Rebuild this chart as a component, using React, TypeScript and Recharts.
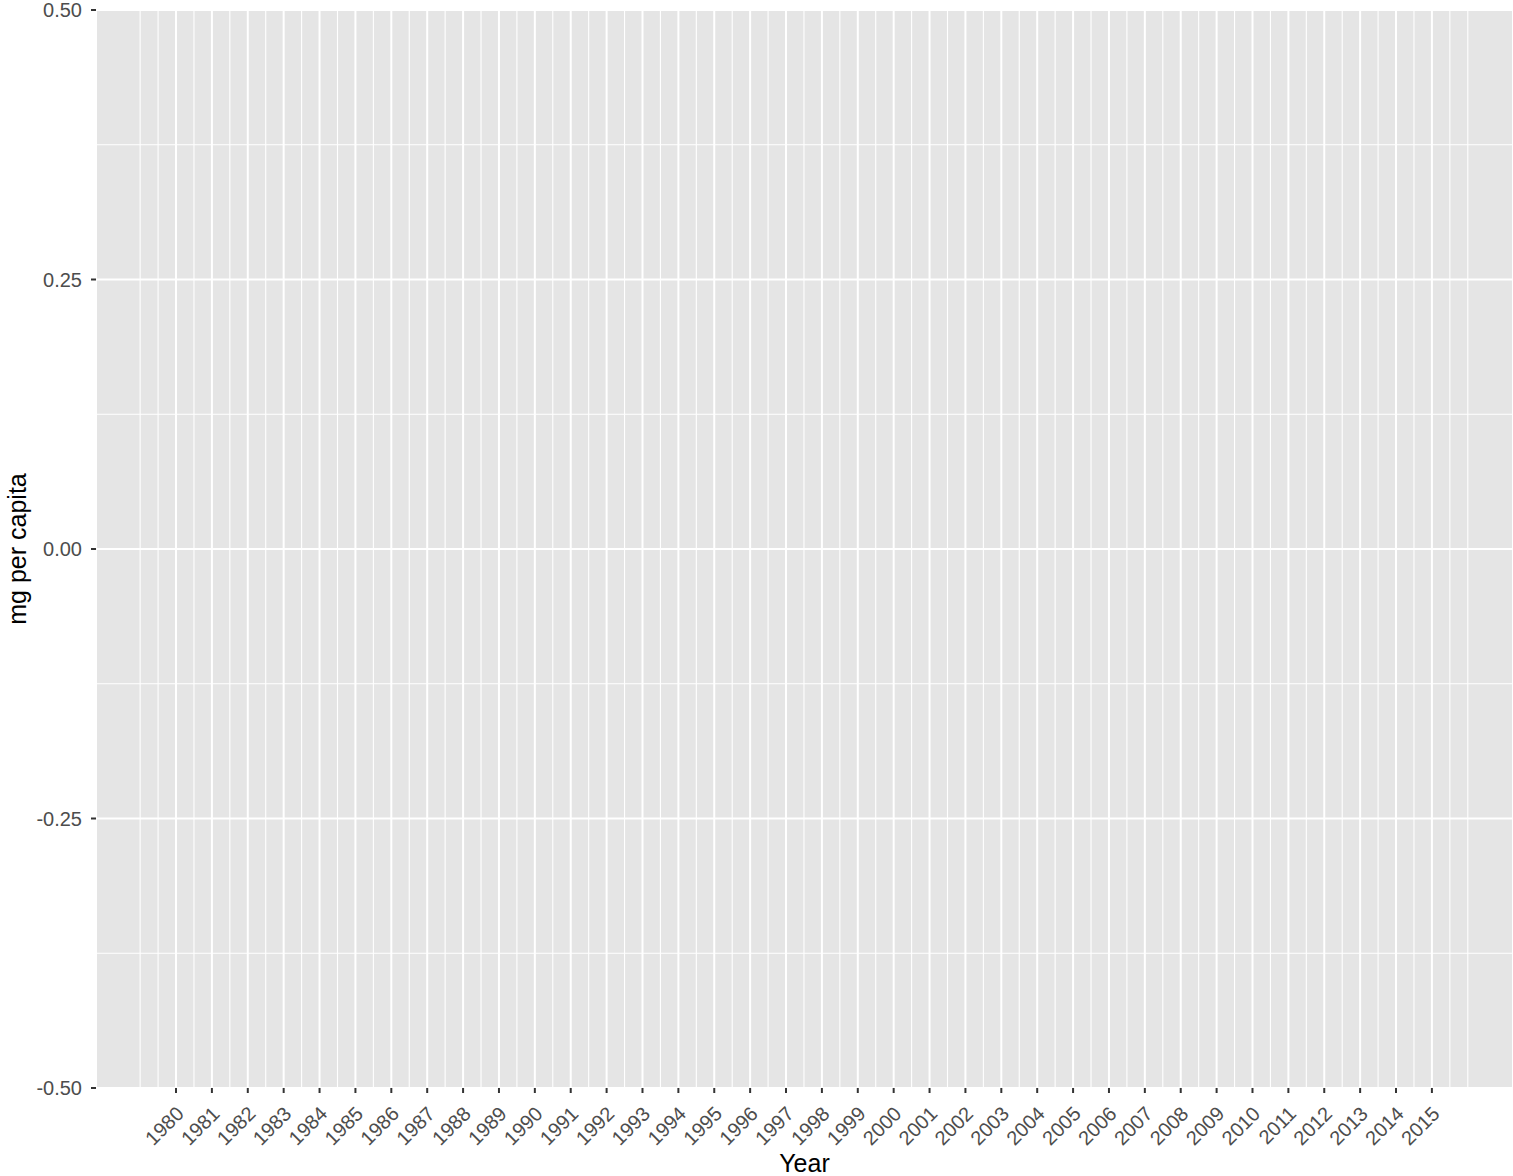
import React from 'react';
import { LineChart, Line, XAxis, YAxis, CartesianGrid, ReferenceLine } from 'recharts';

// Categories (years on the x axis)
const years: number[] = [
  1980, 1981, 1982, 1983, 1984, 1985, 1986, 1987, 1988, 1989,
  1990, 1991, 1992, 1993, 1994, 1995, 1996, 1997, 1998, 1999,
  2000, 2001, 2002, 2003, 2004, 2005, 2006, 2007, 2008, 2009,
  2010, 2011, 2012, 2013, 2014, 2015,
];

// Series values: the reference panel is empty (no marks drawn)
const mgPerCapita: (number | null)[] = [
  null, null, null, null, null, null, null, null, null, null,
  null, null, null, null, null, null, null, null, null, null,
  null, null, null, null, null, null, null, null, null, null,
  null, null, null, null, null, null,
];

// Tick labels / breaks
const yTicks: number[] = [-0.5, -0.25, 0, 0.25, 0.5];
const yMinorBreaks: number[] = [-0.375, -0.125, 0.125, 0.375];
const xDomain: [number, number] = [1977.77, 2017.26];
const yDomain: [number, number] = [-0.5, 0.5];

// ggplot-style minor breaks: halfway between majors, plus one step beyond each end
const xMinorBreaks: number[] = (() => {
  const out: number[] = [];
  const step = years[1] - years[0];
  const ext = [years[0] - step, ...years, years[years.length - 1] + step];
  for (let i = 0; i < ext.length - 1; i++) {
    out.push(ext[i] + step / 2);
  }
  const all = [ext[0], ...out, ext[ext.length - 1]].filter((v) => !years.includes(v));
  return all.filter((v) => v >= xDomain[0] && v <= xDomain[1]);
})();

const data = years.map((year, i) => ({ year, mg: mgPerCapita[i] }));

const FONT = '"Liberation Sans", Arial, Helvetica, sans-serif';
const TICK_COLOR = '#4D4D4D';
const TICK_FONT = 20;
const TITLE_FONT = 25;

const XTick = (props: any) => {
  const { x, y, payload } = props;
  const ax = x + 9;
  const ay = y + 22;
  return (
    <text
      x={ax}
      y={ay}
      transform={`rotate(-45, ${ax}, ${ay})`}
      textAnchor="end"
      fontSize={TICK_FONT}
      fontFamily={FONT}
      fill={TICK_COLOR}
    >
      {payload.value}
    </text>
  );
};

const YTitle = (p: any) => {
  const vb = p.viewBox || { x: 0, y: 10, width: 96, height: 1078 };
  const cx = vb.x + 26;
  const cy = vb.y + vb.height / 2;
  return (
    <text
      x={cx}
      y={cy}
      transform={`rotate(-90, ${cx}, ${cy})`}
      textAnchor="middle"
      fontSize={TITLE_FONT}
      fontFamily={FONT}
      fill="#000000"
    >
      mg per capita
    </text>
  );
};

const XTitle = (p: any) => {
  const vb = p.viewBox || { x: 96, y: 1088, width: 1417, height: 88 };
  const cx = vb.x + vb.width / 2;
  const cy = vb.y + vb.height - 4;
  return (
    <text x={cx} y={cy} textAnchor="middle" fontSize={TITLE_FONT} fontFamily={FONT} fill="#000000">
      Year
    </text>
  );
};

export default function App() {
  return (
    <div style={{ position: 'absolute', left: 0, top: 0, width: 1513, height: 1176, background: '#FFFFFF', fontFamily: FONT }}>
      <LineChart
        width={1513}
        height={1176}
        data={data}
        margin={{ top: 10, right: 0, bottom: 0, left: 0 }}
      >
        <CartesianGrid stroke="#FFFFFF" strokeWidth={2} fill="#E5E5E5" fillOpacity={1} />
        {xMinorBreaks.map((v) => (
          <ReferenceLine key={`xm${v}`} x={v} stroke="#FFFFFF" strokeWidth={1.1} />
        ))}
        {yMinorBreaks.map((v) => (
          <ReferenceLine key={`ym${v}`} y={v} stroke="#FFFFFF" strokeWidth={1.1} />
        ))}
        <XAxis
          dataKey="year"
          type="number"
          domain={xDomain}
          ticks={years}
          interval={0}
          allowDataOverflow
          height={88}
          axisLine={false}
          tickSize={5}
          tickMargin={0}
          tickLine={{ stroke: '#333333', strokeWidth: 2 }}
          tick={<XTick />}
          label={{ content: <XTitle /> }}
        />
        <YAxis
          type="number"
          domain={yDomain}
          ticks={yTicks}
          interval={0}
          allowDataOverflow
          width={96}
          axisLine={false}
          tickSize={5}
          tickMargin={9}
          tickLine={{ stroke: '#333333', strokeWidth: 2 }}
          tick={{ fontSize: TICK_FONT, fill: TICK_COLOR, fontFamily: FONT }}
          tickFormatter={(v: number) => v.toFixed(2)}
          label={{ content: <YTitle /> }}
        />
        <Line
          type="linear"
          dataKey="mg"
          stroke="#000000"
          dot={false}
          isAnimationActive={false}
        />
      </LineChart>
    </div>
  );
}
